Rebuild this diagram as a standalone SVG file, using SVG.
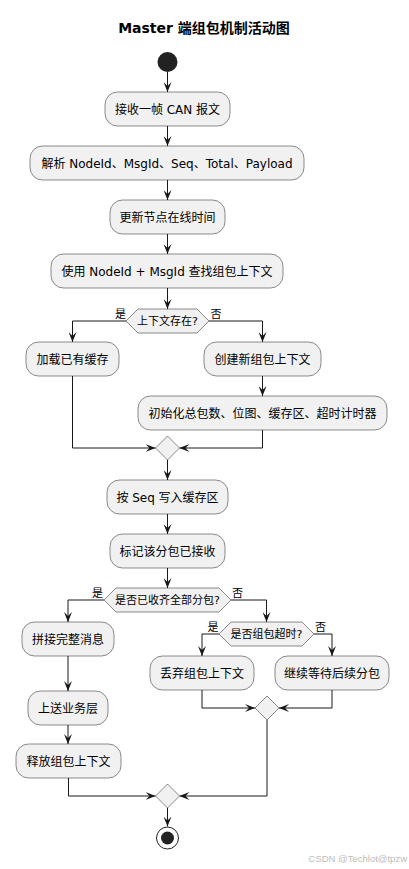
<svg xmlns="http://www.w3.org/2000/svg" width="409" height="869" viewBox="0 0 409 869">
<style>
.bg{fill:#ffffff}
.box{fill:#F1F1F1;stroke:#181818;stroke-width:0.5}
.t{font-family:"DejaVu Sans","Noto Sans CJK SC",sans-serif;font-size:12px;fill:#000;text-anchor:middle}
.dt{font-family:"DejaVu Sans","Noto Sans CJK SC",sans-serif;font-size:11px;fill:#000;text-anchor:middle}
.lbl{font-family:"DejaVu Sans","Noto Sans CJK SC",sans-serif;font-size:11px;fill:#000}
.title{font-family:"DejaVu Sans","Noto Sans CJK SC",sans-serif;font-size:14px;font-weight:bold;fill:#000;text-anchor:middle}
.ln{fill:none;stroke:#181818;stroke-width:1}
.wm{font-family:"Liberation Sans","Noto Sans CJK SC",sans-serif;font-size:9.5px;fill:#bdbdbd;text-anchor:end}
</style>
<defs>
<marker id="ah" markerUnits="userSpaceOnUse" markerWidth="10" markerHeight="8" refX="10" refY="4" orient="auto" viewBox="0 0 10 8">
<path d="M0,0 L10,4 L0,8 L4,4 Z" fill="#181818"/>
</marker>
</defs>
<rect class="bg" x="0" y="0" width="409" height="869"/>
<text class="title" x="204" y="33">Master 端组包机制活动图</text>

<g id="connectors">
<line class="ln" x1="167.5" y1="72" x2="167.5" y2="92" marker-end="url(#ah)"/>
<line class="ln" x1="167.5" y1="126" x2="167.5" y2="146" marker-end="url(#ah)"/>
<line class="ln" x1="167.5" y1="180" x2="167.5" y2="200" marker-end="url(#ah)"/>
<line class="ln" x1="167.5" y1="234" x2="167.5" y2="254" marker-end="url(#ah)"/>
<line class="ln" x1="167.5" y1="288" x2="167.5" y2="309" marker-end="url(#ah)"/>
<polyline class="ln" points="126,321 72.5,321 72.5,342" marker-end="url(#ah)"/>
<polyline class="ln" points="209,321 262.5,321 262.5,342" marker-end="url(#ah)"/>
<line class="ln" x1="262.5" y1="376" x2="262.5" y2="396" marker-end="url(#ah)"/>
<polyline class="ln" points="72.5,376 72.5,448 155.5,448" marker-end="url(#ah)"/>
<polyline class="ln" points="262.5,430 262.5,448 179.5,448" marker-end="url(#ah)"/>
<line class="ln" x1="167.5" y1="460" x2="167.5" y2="480" marker-end="url(#ah)"/>
<line class="ln" x1="167.5" y1="514" x2="167.5" y2="534" marker-end="url(#ah)"/>
<line class="ln" x1="167.5" y1="568" x2="167.5" y2="588" marker-end="url(#ah)"/>
<polyline class="ln" points="104,600 68,600 68,622" marker-end="url(#ah)"/>
<polyline class="ln" points="231,600 266.5,600 266.5,622" marker-end="url(#ah)"/>
<line class="ln" x1="68" y1="656" x2="68" y2="691" marker-end="url(#ah)"/>
<line class="ln" x1="68" y1="725" x2="68" y2="744" marker-end="url(#ah)"/>
<polyline class="ln" points="219,634 202,634 202,656" marker-end="url(#ah)"/>
<polyline class="ln" points="314,634 332,634 332,656" marker-end="url(#ah)"/>
<polyline class="ln" points="202,690 202,708 255,708" marker-end="url(#ah)"/>
<polyline class="ln" points="332,690 332,708 279,708" marker-end="url(#ah)"/>
<polyline class="ln" points="68.5,778 68.5,796 155.5,796" marker-end="url(#ah)"/>
<polyline class="ln" points="267,720 267,796 179.5,796" marker-end="url(#ah)"/>
<line class="ln" x1="167.5" y1="808" x2="167.5" y2="826.5" marker-end="url(#ah)"/>
</g>

<g id="start"><circle cx="167.5" cy="62" r="10" fill="#222222"/></g>

<g id="n1"><rect class="box" x="105" y="92" width="125" height="34" rx="12.5"/><text class="t" x="167.5" y="113.5">接收一帧 CAN 报文</text></g>
<g id="n2"><rect class="box" x="30" y="146" width="274" height="34" rx="12.5"/><text class="t" x="167" y="167.5">解析 NodeId、MsgId、Seq、Total、Payload</text></g>
<g id="n3"><rect class="box" x="110" y="200" width="115" height="34" rx="12.5"/><text class="t" x="167.5" y="221.5">更新节点在线时间</text></g>
<g id="n4"><rect class="box" x="51" y="254" width="232" height="34" rx="12.5"/><text class="t" x="167" y="275.5">使用 NodeId + MsgId 查找组包上下文</text></g>

<g id="d1"><polygon class="box" points="126,321 138,309 197,309 209,321 197,333 138,333"/><text class="dt" x="167.5" y="325">上下文存在?</text>
<text class="lbl" x="115" y="318">是</text><text class="lbl" x="210.5" y="318">否</text></g>

<g id="n5"><rect class="box" x="26" y="342" width="93" height="34" rx="12.5"/><text class="t" x="72.5" y="363.5">加载已有缓存</text></g>
<g id="n6"><rect class="box" x="204" y="342" width="117" height="34" rx="12.5"/><text class="t" x="262.5" y="363.5">创建新组包上下文</text></g>
<g id="n7"><rect class="box" x="138" y="396" width="249" height="34" rx="12.5"/><text class="t" x="262.5" y="417.5">初始化总包数、位图、缓存区、超时计时器</text></g>

<g id="m1"><polygon class="box" points="167.5,436 179.5,448 167.5,460 155.5,448"/></g>

<g id="n8"><rect class="box" x="107" y="480" width="121" height="34" rx="12.5"/><text class="t" x="167.5" y="501.5">按 Seq 写入缓存区</text></g>
<g id="n9"><rect class="box" x="110" y="534" width="115" height="34" rx="12.5"/><text class="t" x="167.5" y="555.5">标记该分包已接收</text></g>

<g id="d2"><polygon class="box" points="104,600 116,588 219,588 231,600 219,612 116,612"/><text class="dt" x="167.5" y="604">是否已收齐全部分包?</text>
<text class="lbl" x="92" y="597">是</text><text class="lbl" x="232" y="597">否</text></g>

<g id="n10"><rect class="box" x="22" y="622" width="92" height="34" rx="12.5"/><text class="t" x="68" y="643.5">拼接完整消息</text></g>

<g id="d3"><polygon class="box" points="219,634 231,622 302,622 314,634 302,646 231,646"/><text class="dt" x="266.5" y="638">是否组包超时?</text>
<text class="lbl" x="207.5" y="631">是</text><text class="lbl" x="315" y="631">否</text></g>

<g id="n11"><rect class="box" x="150" y="656" width="104" height="34" rx="12.5"/><text class="t" x="202" y="677.5">丢弃组包上下文</text></g>
<g id="n12"><rect class="box" x="275" y="656" width="114" height="34" rx="12.5"/><text class="t" x="332" y="677.5">继续等待后续分包</text></g>

<g id="m2"><polygon class="box" points="267,696 279,708 267,720 255,708"/></g>

<g id="n13"><rect class="box" x="28" y="691" width="80" height="34" rx="12.5"/><text class="t" x="68" y="712.5">上送业务层</text></g>
<g id="n14"><rect class="box" x="16" y="744" width="105" height="34" rx="12.5"/><text class="t" x="68.5" y="765.5">释放组包上下文</text></g>

<g id="m3"><polygon class="box" points="167.5,784 179.5,796 167.5,808 155.5,796"/></g>

<g id="end"><circle cx="167.5" cy="838" r="11" fill="none" stroke="#222222" stroke-width="1"/><circle cx="167.5" cy="838" r="6.5" fill="#222222"/></g>

<text class="wm" x="407" y="862">CSDN @Techlot@tpzw</text>
</svg>
